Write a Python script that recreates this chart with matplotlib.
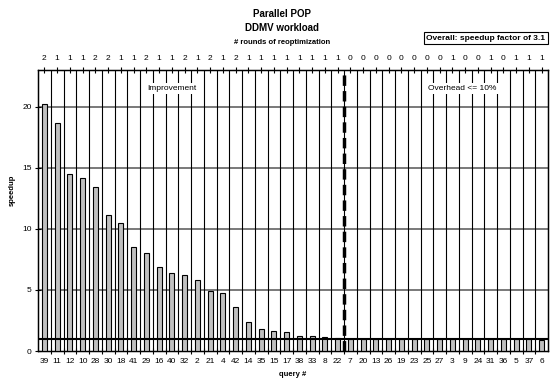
import matplotlib
matplotlib.use('Agg')
import matplotlib.pyplot as plt

plt.rcParams['font.family'] = ['Liberation Sans', 'DejaVu Sans']

# queries sorted by speedup
queries = ['39', '11', '12', '10', '28', '30', '18', '41', '29', '16', '40', '32', '2', '21',
           '4', '42', '14', '35', '15', '17', '38', '33', '8', '22', '7', '20', '13', '26',
           '19', '23', '25', '27', '3', '9', '24', '31', '36', '5', '37', '6']
speedup = [20.2, 18.65, 14.45, 14.15, 13.4, 11.15, 10.5, 8.55, 8.05, 6.85, 6.4, 6.25, 5.85, 4.95,
           4.72, 3.6, 2.35, 1.8, 1.62, 1.52, 1.25, 1.25, 1.15, 1.08, 1.0, 1.0, 1.0, 1.0,
           1.0, 1.0, 1.0, 1.0, 1.0, 1.0, 1.0, 0.98, 0.98, 0.98, 0.98, 0.88]
rounds = [2, 1, 1, 1, 2, 2, 1, 1, 2, 1, 1, 2, 1, 2, 1, 2, 1, 1, 1, 1, 1, 1, 1, 1,
          0, 0, 0, 0, 0, 0, 0, 0, 1, 0, 0, 1, 0, 1, 1, 1]
split = 23.5
overall = 3.1

W, H = 550, 381
fig = plt.figure(figsize=(W / 100, H / 100), dpi=100)
ax = fig.add_axes([38 / W, 1 - 351 / H, (548 - 38) / W, (351 - 70) / H])

x = list(range(len(queries)))
ax.bar(x, speedup, width=0.4, color='#c0c0c0', edgecolor='black', linewidth=0.8, zorder=3)

ax.set_xlim(-0.5, len(queries) - 0.5)
ax.set_ylim(0, 23)
ax.set_yticks([0, 5, 10, 15, 20])
ax.tick_params(axis='y', direction='inout', length=5, labelsize=6, pad=2)
ax.set_xticks([i + 0.5 for i in x[:-1]], minor=False)
ax.set_xticklabels([])
ax.set_xticks(x, minor=True)
ax.set_xticklabels(queries, minor=True, fontsize=6)
ax.tick_params(axis='x', which='major', direction='inout', length=5)
ax.tick_params(axis='x', which='minor', length=0, pad=5)

for yv in [5, 10, 15, 20]:
    ax.axhline(yv, color='#555555', linewidth=1.1, zorder=1)
for i in x[:-1]:
    ax.axvline(i + 0.5, color='black', linewidth=0.8, zorder=2)
ax.axhline(1, color='black', linewidth=1.5, zorder=4)
ax.axvline(split, color='black', linewidth=2.5, linestyle=(0, (3, 1.5)), zorder=5)

for s in ax.spines.values():
    s.set_linewidth(1.0)

ax.set_xlabel('query #', fontsize=5.5, fontweight='bold', labelpad=4)
fig.text(12 / W, 1 - 190 / H, 'speedup', fontsize=5.5, fontweight='bold', rotation=90,
         ha='center', va='center')

# rounds of reoptimization along the top
ax2 = ax.twiny()
ax2.set_xlim(ax.get_xlim())
ax2.set_xticks(x)
ax2.set_xticklabels([str(r) for r in rounds], fontsize=6)
ax2.tick_params(axis='x', direction='inout', length=4, pad=4)

ax.text(10.0, 21.5, 'Improvement', fontsize=6, ha='center', va='center', zorder=6,
        bbox=dict(facecolor='white', edgecolor='none', pad=1.5))
ax.text(32.8, 21.5, 'Overhead <= 10%', fontsize=6, ha='center', va='center', zorder=6,
        bbox=dict(facecolor='white', edgecolor='none', pad=1.5))

fig.text(282 / W, 1 - 14 / H, 'Parallel POP', fontsize=7, fontweight='bold', ha='center', va='center')
fig.text(282 / W, 1 - 28 / H, 'DDMV workload', fontsize=7, fontweight='bold', ha='center', va='center')
fig.text(282 / W, 1 - 43 / H, '# rounds of reoptimization', fontsize=5.5, fontweight='bold',
         ha='center', va='center')
fig.text(486 / W, 1 - 38 / H, f'Overall: speedup factor of {overall}', fontsize=6, fontweight='bold',
         ha='center', va='center',
         bbox=dict(facecolor='white', edgecolor='black', linewidth=0.8, pad=1.5))

fig.savefig('out.png', dpi=100)
